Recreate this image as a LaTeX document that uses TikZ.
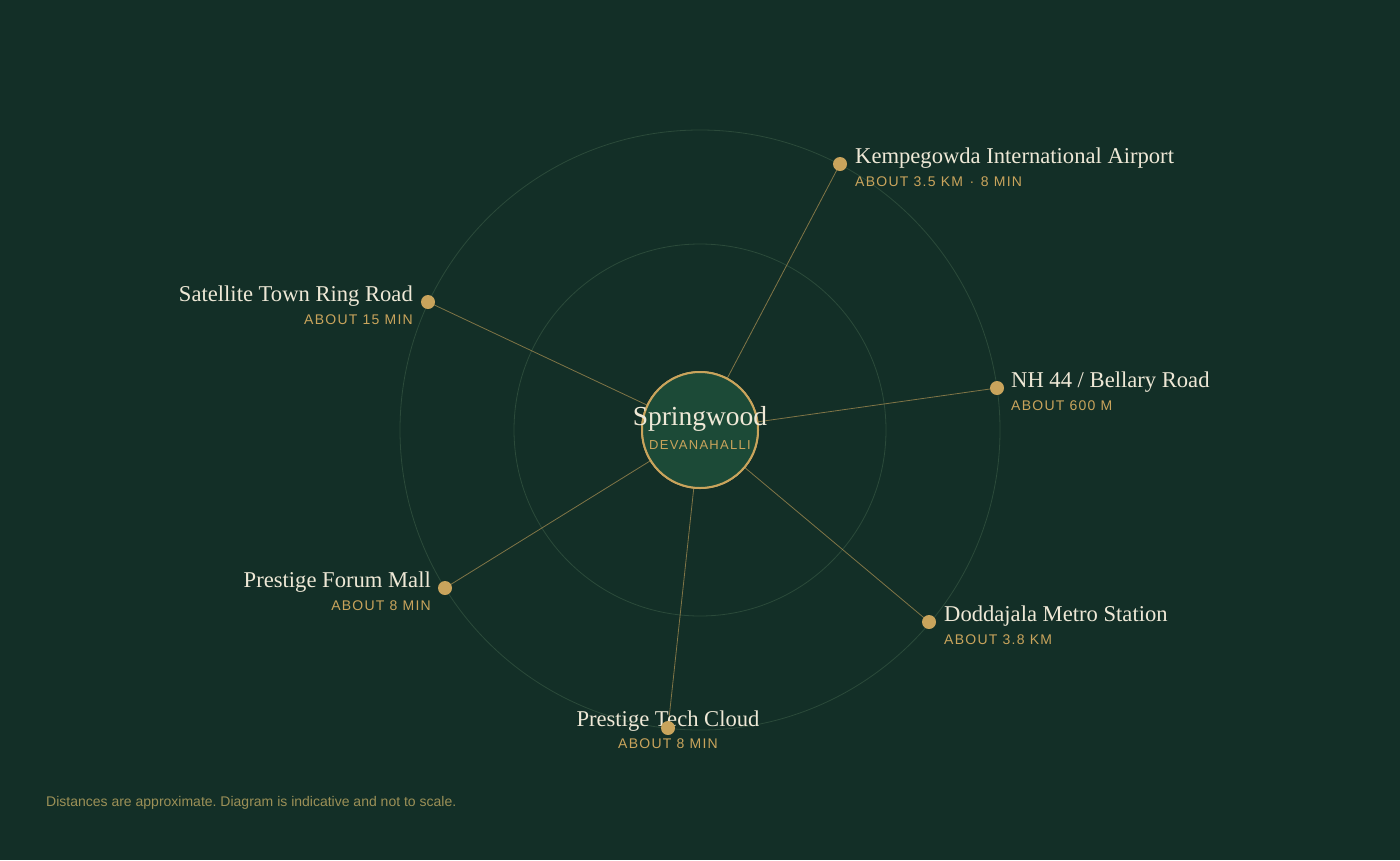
\documentclass[tikz,border=0pt]{standalone}
\usepackage{fontspec}
\setmainfont{Liberation Serif}
\newfontfamily\subsans[LetterSpace=9]{Liberation Sans}
\newfontfamily\cityfont[LetterSpace=10]{Liberation Sans}
\newfontfamily\notefont{Liberation Sans}
\definecolor{bg}{HTML}{132F27}
\definecolor{hubfill}{HTML}{1C4A37}
\definecolor{gold}{HTML}{C9A45C}
\definecolor{cream}{HTML}{EEE8D6}
\definecolor{ringc}{HTML}{2B4A3A}
\definecolor{notec}{HTML}{9C9057}
\tikzset{
  ring/.style={draw=ringc, line width=0.8pt},
  spoke/.style={draw=gold, draw opacity=0.6, line width=0.8pt},
  hub/.style={circle, draw=gold, line width=2pt, fill=hubfill, minimum size=116pt, inner sep=0pt},
  dot/.style={circle, fill=gold, minimum size=14pt, inner sep=0pt},
  ttl/.style={inner sep=0pt, text=cream, font=\fontsize{22.6}{24}\selectfont},
  sub/.style={inner sep=0pt, text=gold, font=\subsans\fontsize{14}{16}\selectfont},
}
\begin{document}
\frenchspacing
\begin{tikzpicture}[x=1pt,y=-1pt]
\useasboundingbox (0,0) rectangle (1400,860);
\fill[bg] (0,0) rectangle (1400,860);
\coordinate (o) at (700,430);
\draw[ring] (o) circle[radius=300];
\draw[ring] (o) circle[radius=186];
\node[hub] (c) at (o) {};
\coordinate (pair) at (840,164);
\coordinate (pnh) at (997,388);
\coordinate (pdod) at (929,622);
\coordinate (ptech) at (668,728);
\coordinate (pmall) at (445,588);
\coordinate (psat) at (428,302);
\foreach \p in {pair,pnh,pdod,ptech,pmall,psat} \draw[spoke] (c) -- (\p);
\node[hub] (c2) at (o) {};
\node[inner sep=0pt, text=cream, font=\fontsize{27.5}{30}\selectfont, anchor=base] (ct) at (700,425) {Springwood};
\node[inner sep=0pt, text=gold, font=\cityfont\fontsize{13}{15}\selectfont, anchor=base] (cs) at (700,449) {DEVANAHALLI};
% labels
\node[ttl, anchor=base west] (airT) at (855,163) {Kempegowda International Airport};
\node[sub, anchor=base west] (airS) at (855,186) {ABOUT 3.5 KM\hspace{1.5pt} · \hspace{1.5pt}8 MIN};
\node[ttl, anchor=base west] (nhT) at (1011,387) {NH 44 / Bellary Road};
\node[sub, anchor=base west] (nhS) at (1011,410) {ABOUT 600 M};
\node[ttl, anchor=base west] (dodT) at (944,621) {Doddajala Metro Station};
\node[sub, anchor=base west] (dodS) at (944,644) {ABOUT 3.8 KM};
\node[ttl, anchor=base] (techT) at (668,726) {Prestige Tech Cloud};
\node[sub, anchor=base] (techS) at (668,748) {ABOUT 8 MIN};
\node[ttl, anchor=base east] (mallT) at (431,587) {Prestige Forum Mall};
\node[sub, anchor=base east] (mallS) at (431,610) {ABOUT 8 MIN};
\node[ttl, anchor=base east] (satT) at (413,301) {Satellite Town Ring Road};
\node[sub, anchor=base east] (satS) at (413,324) {ABOUT 15 MIN};
% dots
\node[dot] (air) at (pair) {};
\node[dot] (nh) at (pnh) {};
\node[dot] (dod) at (pdod) {};
\node[dot] (tech) at (ptech) {};
\node[dot] (mall) at (pmall) {};
\node[dot] (sat) at (psat) {};
\node[inner sep=0pt, anchor=base west, text=notec, font=\notefont\fontsize{14}{16}\selectfont] (note) at (46,806) {Distances are approximate. Diagram is indicative and not to scale.};
\end{tikzpicture}
\end{document}
